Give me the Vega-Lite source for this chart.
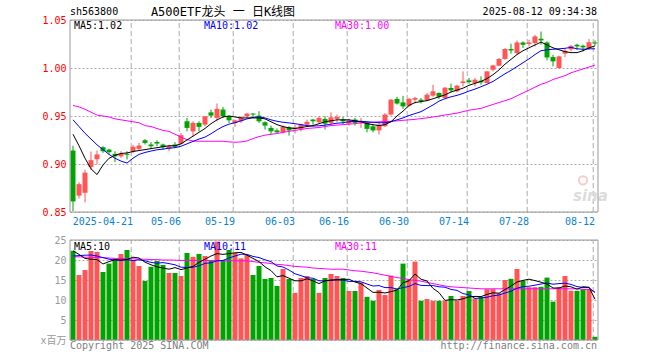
{
"$schema": "https://vega.github.io/schema/vega-lite/v6.json",
"width": 528, "height": 320, "autosize": "none",
"padding": {"left": 70, "top": 20, "right": 62, "bottom": 20},
"background": "#ffffff",
"config": {
 "view": {"stroke": null},
 "font": "DejaVu Sans Mono, Noto Sans CJK SC",
 "axis": {"labelFont": "DejaVu Sans Mono, Noto Sans CJK SC", "labelFontSize": 10, "domain": false, "ticks": false, "title": null},
 "text": {"font": "DejaVu Sans Mono, Noto Sans CJK SC", "fontSize": 10}
},
"datasets": {
 "g": [{"d":"2025-04-21"},{"d":"2025-05-06"},{"d":"2025-05-19"},{"d":"2025-06-03"},{"d":"2025-06-16"},{"d":"2025-06-30"},{"d":"2025-07-14"},{"d":"2025-07-28"},{"d":"2025-08-12"}],
 "k": [
{"d":"2025-04-07","o":0.914,"h":0.919,"l":0.851,"c":0.861,"v":22.3,"m5":0.931,"m10":0.946,"m30":0.961,"v5":22.3,"v10":21.0,"v30":20.8},
{"d":"2025-04-08","o":0.867,"h":0.881,"l":0.864,"c":0.879,"v":16.25,"m5":0.919,"m10":0.939,"m30":0.9595,"v5":21.4,"v10":21.1,"v30":20.8},
{"d":"2025-04-09","o":0.870,"h":0.894,"l":0.860,"c":0.891,"v":17.5,"m5":0.906,"m10":0.932,"m30":0.957,"v5":20.4,"v10":21.2,"v30":20.7},
{"d":"2025-04-10","o":0.897,"h":0.913,"l":0.894,"c":0.904,"v":22.25,"m5":0.895,"m10":0.926,"m30":0.954,"v5":20.2,"v10":21.25,"v30":20.7},
{"d":"2025-04-11","o":0.905,"h":0.914,"l":0.8995,"c":0.910,"v":22.0,"m5":0.889,"m10":0.920,"m30":0.951,"v5":20.1,"v10":21.0,"v30":20.6},
{"d":"2025-04-14","o":0.9175,"h":0.9185,"l":0.9116,"c":0.9133,"v":17.0,"m5":0.899,"m10":0.915,"m30":0.950,"v5":19.0,"v10":20.6,"v30":20.6},
{"d":"2025-04-15","o":0.915,"h":0.916,"l":0.910,"c":0.9123,"v":19.1,"m5":0.906,"m10":0.910,"m30":0.949,"v5":19.6,"v10":20.2,"v30":20.5},
{"d":"2025-04-16","o":0.9106,"h":0.9133,"l":0.902,"c":0.9081,"v":20.2,"m5":0.909,"m10":0.906,"m30":0.947,"v5":20.1,"v10":20.0,"v30":20.4},
{"d":"2025-04-17","o":0.908,"h":0.9133,"l":0.9064,"c":0.911,"v":21.5,"m5":0.911,"m10":0.903,"m30":0.946,"v5":20.0,"v10":19.9,"v30":20.4},
{"d":"2025-04-18","o":0.9106,"h":0.9133,"l":0.9047,"c":0.9096,"v":22.5,"m5":0.9115,"m10":0.901,"m30":0.945,"v5":20.1,"v10":20.1,"v30":20.3},
{"d":"2025-04-21","o":0.9133,"h":0.920,"l":0.9116,"c":0.9179,"v":20.0,"m5":0.913,"m10":0.906,"m30":0.944,"v5":20.7,"v10":19.85,"v30":20.3},
{"d":"2025-04-22","o":0.9158,"h":0.922,"l":0.914,"c":0.9192,"v":18.5,"m5":0.914,"m10":0.910,"m30":0.943,"v5":20.5,"v10":20.05,"v30":20.2},
{"d":"2025-04-23","o":0.9247,"h":0.926,"l":0.9203,"c":0.922,"v":14.75,"m5":0.915,"m10":0.912,"m30":0.940,"v5":19.45,"v10":19.8,"v30":20.2},
{"d":"2025-04-24","o":0.9203,"h":0.9227,"l":0.9158,"c":0.9185,"v":18.3,"m5":0.916,"m10":0.9135,"m30":0.939,"v5":18.8,"v10":19.4,"v30":20.1},
{"d":"2025-04-25","o":0.923,"h":0.9247,"l":0.9185,"c":0.9213,"v":19.75,"m5":0.917,"m10":0.9148,"m30":0.937,"v5":18.3,"v10":19.2,"v30":20.1},
{"d":"2025-04-28","o":0.9203,"h":0.9213,"l":0.915,"c":0.9175,"v":18.75,"m5":0.918,"m10":0.9155,"m30":0.935,"v5":18.0,"v10":19.35,"v30":20.0},
{"d":"2025-04-29","o":0.9158,"h":0.920,"l":0.9133,"c":0.9185,"v":16.75,"m5":0.919,"m10":0.9165,"m30":0.934,"v5":17.7,"v10":19.1,"v30":20.0},
{"d":"2025-04-30","o":0.9203,"h":0.9227,"l":0.9168,"c":0.9179,"v":16.75,"m5":0.919,"m10":0.917,"m30":0.931,"v5":18.1,"v10":18.8,"v30":19.95},
{"d":"2025-05-06","o":0.9213,"h":0.9324,"l":0.920,"c":0.930,"v":16.0,"m5":0.921,"m10":0.9185,"m30":0.928,"v5":17.6,"v10":18.2,"v30":19.9},
{"d":"2025-05-07","o":0.9445,"h":0.948,"l":0.934,"c":0.9376,"v":21.75,"m5":0.925,"m10":0.921,"m30":0.9254,"v5":18.0,"v10":18.15,"v30":19.9},
{"d":"2025-05-08","o":0.934,"h":0.9445,"l":0.929,"c":0.9428,"v":20.8,"m5":0.929,"m10":0.9235,"m30":0.924,"v5":18.4,"v10":18.2,"v30":19.9},
{"d":"2025-05-09","o":0.9428,"h":0.9445,"l":0.934,"c":0.9387,"v":21.5,"m5":0.933,"m10":0.926,"m30":0.9237,"v5":19.4,"v10":18.55,"v30":19.9},
{"d":"2025-05-12","o":0.941,"h":0.9497,"l":0.9393,"c":0.9497,"v":21.0,"m5":0.937,"m10":0.928,"m30":0.9237,"v5":20.2,"v10":19.15,"v30":19.9},
{"d":"2025-05-13","o":0.9538,"h":0.9567,"l":0.948,"c":0.9504,"v":20.0,"m5":0.942,"m10":0.9315,"m30":0.9237,"v5":21.0,"v10":19.3,"v30":19.85},
{"d":"2025-05-14","o":0.948,"h":0.963,"l":0.9445,"c":0.9574,"v":24.6,"m5":0.946,"m10":0.9355,"m30":0.9237,"v5":21.6,"v10":19.8,"v30":19.85},
{"d":"2025-05-15","o":0.9567,"h":0.9595,"l":0.948,"c":0.9497,"v":20.0,"m5":0.949,"m10":0.939,"m30":0.9237,"v5":21.4,"v10":19.9,"v30":19.8},
{"d":"2025-05-16","o":0.9497,"h":0.9504,"l":0.9428,"c":0.9455,"v":22.5,"m5":0.950,"m10":0.9415,"m30":0.923,"v5":21.6,"v10":20.5,"v30":19.8},
{"d":"2025-05-19","o":0.9428,"h":0.9463,"l":0.9387,"c":0.9455,"v":21.8,"m5":0.949,"m10":0.943,"m30":0.9227,"v5":21.8,"v10":21.0,"v30":19.8},
{"d":"2025-05-20","o":0.9445,"h":0.9497,"l":0.9428,"c":0.948,"v":20.4,"m5":0.948,"m10":0.945,"m30":0.923,"v5":21.9,"v10":21.45,"v30":19.8},
{"d":"2025-05-21","o":0.9497,"h":0.9532,"l":0.948,"c":0.9525,"v":21.25,"m5":0.948,"m10":0.947,"m30":0.924,"v5":21.2,"v10":21.4,"v30":19.8},
{"d":"2025-05-22","o":0.9525,"h":0.9532,"l":0.948,"c":0.9515,"v":16.25,"m5":0.948,"m10":0.9485,"m30":0.9265,"v5":20.4,"v10":20.9,"v30":19.6},
{"d":"2025-05-23","o":0.9504,"h":0.955,"l":0.9428,"c":0.9445,"v":18.5,"m5":0.948,"m10":0.949,"m30":0.9285,"v5":19.6,"v10":20.6,"v30":19.4},
{"d":"2025-05-26","o":0.9435,"h":0.9445,"l":0.9359,"c":0.940,"v":15.25,"m5":0.947,"m10":0.948,"m30":0.930,"v5":18.3,"v10":20.05,"v30":19.3},
{"d":"2025-05-27","o":0.9376,"h":0.940,"l":0.9307,"c":0.934,"v":15.5,"m5":0.944,"m10":0.946,"m30":0.931,"v5":17.35,"v10":19.6,"v30":19.1},
{"d":"2025-05-28","o":0.935,"h":0.937,"l":0.9324,"c":0.933,"v":13.5,"m5":0.941,"m10":0.9445,"m30":0.9317,"v5":15.8,"v10":18.5,"v30":18.9},
{"d":"2025-05-29","o":0.933,"h":0.940,"l":0.9317,"c":0.9387,"v":17.75,"m5":0.939,"m10":0.9435,"m30":0.933,"v5":16.1,"v10":18.25,"v30":18.8},
{"d":"2025-05-30","o":0.9383,"h":0.9393,"l":0.9296,"c":0.935,"v":15.25,"m5":0.9376,"m10":0.9428,"m30":0.934,"v5":15.45,"v10":17.5,"v30":18.6},
{"d":"2025-06-03","o":0.9366,"h":0.941,"l":0.9317,"c":0.938,"v":11.8,"m5":0.937,"m10":0.942,"m30":0.935,"v5":14.8,"v10":16.55,"v30":18.4},
{"d":"2025-06-04","o":0.9366,"h":0.942,"l":0.934,"c":0.941,"v":15.5,"m5":0.938,"m10":0.941,"m30":0.936,"v5":14.8,"v10":16.1,"v30":18.3},
{"d":"2025-06-05","o":0.941,"h":0.9463,"l":0.9387,"c":0.9439,"v":16.0,"m5":0.939,"m10":0.940,"m30":0.937,"v5":15.3,"v10":15.55,"v30":18.2},
{"d":"2025-06-06","o":0.9463,"h":0.947,"l":0.941,"c":0.9445,"v":15.25,"m5":0.940,"m10":0.9395,"m30":0.9375,"v5":14.8,"v10":15.45,"v30":18.0},
{"d":"2025-06-09","o":0.9435,"h":0.9497,"l":0.9428,"c":0.948,"v":11.8,"m5":0.942,"m10":0.9398,"m30":0.938,"v5":14.1,"v10":14.8,"v30":17.9},
{"d":"2025-06-10","o":0.947,"h":0.9497,"l":0.9359,"c":0.942,"v":15.5,"m5":0.944,"m10":0.9405,"m30":0.939,"v5":14.8,"v10":14.8,"v30":17.8},
{"d":"2025-06-11","o":0.9428,"h":0.9538,"l":0.941,"c":0.9486,"v":16.5,"m5":0.945,"m10":0.9415,"m30":0.940,"v5":15.0,"v10":14.9,"v30":17.7},
{"d":"2025-06-12","o":0.947,"h":0.9515,"l":0.9435,"c":0.949,"v":16.0,"m5":0.946,"m10":0.9425,"m30":0.9405,"v5":15.0,"v10":15.15,"v30":17.7},
{"d":"2025-06-13","o":0.9463,"h":0.949,"l":0.941,"c":0.9445,"v":15.5,"m5":0.946,"m10":0.943,"m30":0.941,"v5":15.1,"v10":14.95,"v30":17.7},
{"d":"2025-06-16","o":0.942,"h":0.947,"l":0.940,"c":0.9455,"v":12.25,"m5":0.946,"m10":0.944,"m30":0.9415,"v5":15.2,"v10":14.65,"v30":17.5},
{"d":"2025-06-17","o":0.9463,"h":0.948,"l":0.940,"c":0.9428,"v":12.25,"m5":0.945,"m10":0.9445,"m30":0.942,"v5":14.5,"v10":14.65,"v30":17.3},
{"d":"2025-06-18","o":0.9428,"h":0.948,"l":0.9376,"c":0.9445,"v":14.4,"m5":0.944,"m10":0.9445,"m30":0.9428,"v5":14.1,"v10":14.55,"v30":17.2},
{"d":"2025-06-19","o":0.9435,"h":0.9445,"l":0.933,"c":0.9366,"v":10.8,"m5":0.942,"m10":0.944,"m30":0.943,"v5":13.0,"v10":14.0,"v30":17.0},
{"d":"2025-06-20","o":0.9393,"h":0.941,"l":0.933,"c":0.935,"v":9.8,"m5":0.941,"m10":0.9435,"m30":0.9435,"v5":11.9,"v10":13.5,"v30":16.8},
{"d":"2025-06-23","o":0.935,"h":0.9428,"l":0.9307,"c":0.941,"v":12.5,"m5":0.940,"m10":0.943,"m30":0.944,"v5":11.95,"v10":13.6,"v30":16.5},
{"d":"2025-06-24","o":0.9393,"h":0.9532,"l":0.9387,"c":0.9515,"v":11.25,"m5":0.941,"m10":0.943,"m30":0.9442,"v5":11.75,"v10":13.1,"v30":16.2},
{"d":"2025-06-25","o":0.9515,"h":0.9678,"l":0.9504,"c":0.967,"v":16.1,"m5":0.944,"m10":0.944,"m30":0.9445,"v5":12.1,"v10":13.1,"v30":15.9},
{"d":"2025-06-26","o":0.9678,"h":0.970,"l":0.9619,"c":0.963,"v":12.7,"m5":0.950,"m10":0.946,"m30":0.945,"v5":12.5,"v10":12.75,"v30":15.6},
{"d":"2025-06-27","o":0.9642,"h":0.971,"l":0.9574,"c":0.960,"v":19.1,"m5":0.955,"m10":0.948,"m30":0.9455,"v5":14.3,"v10":13.1,"v30":15.4},
{"d":"2025-06-30","o":0.9608,"h":0.9688,"l":0.9595,"c":0.9678,"v":15.0,"m5":0.961,"m10":0.9505,"m30":0.946,"v5":14.8,"v10":13.4,"v30":15.1},
{"d":"2025-07-01","o":0.967,"h":0.970,"l":0.963,"c":0.9688,"v":19.6,"m5":0.964,"m10":0.9525,"m30":0.9465,"v5":16.5,"v10":14.1,"v30":14.9},
{"d":"2025-07-02","o":0.967,"h":0.9688,"l":0.963,"c":0.9653,"v":9.8,"m5":0.965,"m10":0.9545,"m30":0.9473,"v5":15.2,"v10":13.65,"v30":14.7},
{"d":"2025-07-03","o":0.9663,"h":0.974,"l":0.9653,"c":0.9722,"v":10.25,"m5":0.966,"m10":0.958,"m30":0.948,"v5":14.75,"v10":13.6,"v30":14.4},
{"d":"2025-07-04","o":0.9712,"h":0.9826,"l":0.970,"c":0.9757,"v":9.8,"m5":0.968,"m10":0.9615,"m30":0.949,"v5":12.9,"v10":13.6,"v30":14.1},
{"d":"2025-07-07","o":0.974,"h":0.9746,"l":0.9678,"c":0.970,"v":9.8,"m5":0.970,"m10":0.9655,"m30":0.950,"v5":11.85,"v10":13.3,"v30":13.8},
{"d":"2025-07-08","o":0.9688,"h":0.980,"l":0.9678,"c":0.9795,"v":9.8,"m5":0.972,"m10":0.968,"m30":0.951,"v5":9.9,"v10":13.2,"v30":13.5},
{"d":"2025-07-09","o":0.9792,"h":0.9837,"l":0.9746,"c":0.9767,"v":11.0,"m5":0.975,"m10":0.970,"m30":0.952,"v5":10.1,"v10":12.65,"v30":13.3},
{"d":"2025-07-10","o":0.9757,"h":0.9826,"l":0.9746,"c":0.9816,"v":9.8,"m5":0.977,"m10":0.9715,"m30":0.953,"v5":10.0,"v10":12.4,"v30":13.2},
{"d":"2025-07-11","o":0.9844,"h":0.9965,"l":0.9809,"c":0.986,"v":11.0,"m5":0.979,"m10":0.9735,"m30":0.9545,"v5":10.3,"v10":11.6,"v30":13.1},
{"d":"2025-07-14","o":0.9871,"h":0.9896,"l":0.9837,"c":0.9854,"v":12.25,"m5":0.982,"m10":0.976,"m30":0.956,"v5":10.8,"v10":11.3,"v30":13.0},
{"d":"2025-07-15","o":0.9844,"h":0.9896,"l":0.9809,"c":0.9878,"v":10.4,"m5":0.984,"m10":0.978,"m30":0.957,"v5":10.9,"v10":10.4,"v30":12.9},
{"d":"2025-07-16","o":0.9868,"h":0.9913,"l":0.9826,"c":0.985,"v":10.8,"m5":0.986,"m10":0.9805,"m30":0.958,"v5":10.85,"v10":10.5,"v30":12.8},
{"d":"2025-07-17","o":0.9844,"h":0.9965,"l":0.9837,"c":0.9965,"v":12.7,"m5":0.989,"m10":0.983,"m30":0.960,"v5":11.4,"v10":10.7,"v30":12.8},
{"d":"2025-07-18","o":0.9982,"h":1.0034,"l":0.9965,"c":1.0027,"v":12.7,"m5":0.993,"m10":0.986,"m30":0.962,"v5":11.8,"v10":11.05,"v30":12.8},
{"d":"2025-07-21","o":1.0024,"h":1.0104,"l":1.0017,"c":1.0094,"v":11.7,"m5":0.998,"m10":0.990,"m30":0.964,"v5":11.7,"v10":11.25,"v30":12.8},
{"d":"2025-07-22","o":1.0094,"h":1.0208,"l":1.0086,"c":1.0198,"v":15.0,"m5":1.004,"m10":0.994,"m30":0.966,"v5":12.6,"v10":11.75,"v30":12.8},
{"d":"2025-07-23","o":1.0198,"h":1.0253,"l":1.0149,"c":1.0183,"v":15.3,"m5":1.009,"m10":0.9975,"m30":0.968,"v5":13.5,"v10":12.2,"v30":12.8},
{"d":"2025-07-24","o":1.0156,"h":1.0287,"l":1.0138,"c":1.0266,"v":17.75,"m5":1.014,"m10":1.0015,"m30":0.971,"v5":14.5,"v10":12.95,"v30":12.8},
{"d":"2025-07-25","o":1.0266,"h":1.0277,"l":1.0208,"c":1.0242,"v":14.8,"m5":1.018,"m10":1.0055,"m30":0.974,"v5":14.9,"v10":13.35,"v30":12.8},
{"d":"2025-07-28","o":1.025,"h":1.0294,"l":1.0225,"c":1.0266,"v":13.2,"m5":1.021,"m10":1.0095,"m30":0.977,"v5":15.2,"v10":13.45,"v30":12.8},
{"d":"2025-07-29","o":1.026,"h":1.0346,"l":1.0225,"c":1.0329,"v":13.2,"m5":1.024,"m10":1.014,"m30":0.980,"v5":14.85,"v10":13.7,"v30":12.8},
{"d":"2025-07-30","o":1.0305,"h":1.038,"l":1.0242,"c":1.0287,"v":13.3,"m5":1.027,"m10":1.018,"m30":0.983,"v5":14.45,"v10":14.0,"v30":12.8},
{"d":"2025-07-31","o":1.0266,"h":1.0277,"l":1.0079,"c":1.011,"v":15.6,"m5":1.024,"m10":1.019,"m30":0.985,"v5":14.0,"v10":14.25,"v30":12.8},
{"d":"2025-08-01","o":1.0114,"h":1.0138,"l":1.0017,"c":1.0069,"v":9.6,"m5":1.021,"m10":1.0195,"m30":0.988,"v5":13.0,"v10":13.95,"v30":12.8},
{"d":"2025-08-04","o":1.000,"h":1.0128,"l":0.9995,"c":1.0121,"v":13.2,"m5":1.019,"m10":1.020,"m30":0.990,"v5":13.0,"v10":14.1,"v30":12.8},
{"d":"2025-08-05","o":1.015,"h":1.0198,"l":1.0114,"c":1.018,"v":16.0,"m5":1.017,"m10":1.0205,"m30":0.992,"v5":13.5,"v10":14.2,"v30":12.8},
{"d":"2025-08-06","o":1.0195,"h":1.0242,"l":1.0173,"c":1.023,"v":12.3,"m5":1.016,"m10":1.0215,"m30":0.995,"v5":13.3,"v10":13.9,"v30":12.8},
{"d":"2025-08-07","o":1.0242,"h":1.0253,"l":1.019,"c":1.0225,"v":12.3,"m5":1.016,"m10":1.020,"m30":0.997,"v5":12.7,"v10":13.35,"v30":12.8},
{"d":"2025-08-08","o":1.0232,"h":1.0242,"l":1.0173,"c":1.0215,"v":12.7,"m5":1.018,"m10":1.0195,"m30":0.999,"v5":13.3,"v10":13.15,"v30":12.7},
{"d":"2025-08-11","o":1.0208,"h":1.0301,"l":1.019,"c":1.0268,"v":12.7,"m5":1.021,"m10":1.020,"m30":1.001,"v5":13.2,"v10":13.1,"v30":12.6},
{"d":"2025-08-12","o":1.0266,"h":1.0287,"l":1.0232,"c":1.0256,"v":0.8,"m5":1.023,"m10":1.020,"m30":1.003,"v5":10.2,"v10":11.85,"v30":12.0}
 ]
},
"layer": [
 {"layer": [
  {"data": {"name": "g"}, "mark": {"type": "rule", "strokeDash": [5, 3], "color": "#aaaaaa", "strokeWidth": 1},
   "encoding": {"x": {"field": "d", "type": "ordinal", "bandPosition": 0.2}, "y": {"datum": 0.85}, "y2": {"datum": 1.05}}},
  {"data": {"values": [{}]}, "mark": {"type": "text", "text": "sina", "align": "left", "baseline": "middle", "dx": -4, "fontSize": 15, "fontStyle": "italic", "fontWeight": "bold", "font": "DejaVu Sans", "color": "#dcdcdc"},
   "encoding": {"x": {"datum": "2025-08-07", "type": "ordinal"}, "y": {"datum": 0.867}}},
  {"data": {"values": [{}]}, "mark": {"type": "point", "shape": "circle", "size": 70, "filled": false, "strokeWidth": 2, "color": "#f6b8b8"},
   "encoding": {"x": {"datum": "2025-08-08", "type": "ordinal"}, "y": {"datum": 0.883}}},
  {"data": {"name": "k"}, "mark": {"type": "rule", "strokeWidth": 1},
   "encoding": {
    "x": {"field": "d", "type": "ordinal", "scale": {"type": "band", "paddingInner": 0, "paddingOuter": 0},
          "axis": {"orient": "bottom", "offset": -128, "values": ["2025-04-21","2025-05-06","2025-05-19","2025-06-03","2025-06-16","2025-06-30","2025-07-14","2025-07-28","2025-08-12"],
                   "labelExpr": "datum.value == '2025-04-21' ? datum.value : slice(datum.value, 5)", "labelColor": "#0a82d2", "labelPadding": 9, "labelAngle": 0,
                   "bandPosition": 0.2, "grid": false, "labelOverlap": false, "labelBound": false, "labelFlush": false}},
    "y": {"field": "l", "type": "quantitative", "scale": {"domain": [0.716667, 1.05], "nice": false, "zero": false},
          "axis": {"orient": "left", "values": [0.85, 0.9, 0.95, 1, 1.05], "format": ".2f", "labelColor": "#ff0000", "grid": true, "gridDash": [2, 2], "gridColor": "#aaaaaa", "labelPadding": 4}},
    "y2": {"field": "h"},
    "color": {"condition": {"test": "datum.c >= datum.o", "value": "#ff5555"}, "value": "#00a300"}}},
  {"data": {"name": "k"}, "mark": {"type": "bar", "width": 5},
   "encoding": {"x": {"field": "d", "type": "ordinal"}, "y": {"field": "o", "type": "quantitative"}, "y2": {"field": "c"},
    "color": {"condition": {"test": "datum.c >= datum.o", "value": "#ff5555"}, "value": "#00a300"}}},
  {"data": {"name": "k"}, "mark": {"type": "line", "strokeWidth": 1, "color": "#ff00ff"},
   "encoding": {"x": {"field": "d", "type": "ordinal"}, "y": {"field": "m30", "type": "quantitative"}}},
  {"data": {"name": "k"}, "mark": {"type": "line", "strokeWidth": 1, "color": "#0000ff"},
   "encoding": {"x": {"field": "d", "type": "ordinal"}, "y": {"field": "m10", "type": "quantitative"}}},
  {"data": {"name": "k"}, "mark": {"type": "line", "strokeWidth": 1, "color": "#000000"},
   "encoding": {"x": {"field": "d", "type": "ordinal"}, "y": {"field": "m5", "type": "quantitative"}}},
  {"data": {"values": [{}]}, "mark": {"type": "rect", "fill": "transparent", "stroke": "#999999", "strokeWidth": 1},
   "encoding": {"y": {"datum": 0.85}, "y2": {"datum": 1.05}}},
  {"data": {"values": [{}]}, "mark": {"type": "text", "text": "sh563800", "align": "left", "baseline": "middle", "dx": -3, "dy": -8, "color": "#000000"},
   "encoding": {"x": {"datum": "2025-04-07", "type": "ordinal"}, "y": {"datum": 1.05}}},
  {"data": {"values": [{}]}, "mark": {"type": "text", "text": "A500ETF龙头 一 日K线图", "align": "center", "baseline": "middle", "dy": -8, "fontSize": 12, "color": "#000000"},
   "encoding": {"x": {"datum": "2025-05-15", "type": "ordinal"}, "y": {"datum": 1.05}}},
  {"data": {"values": [{}]}, "mark": {"type": "text", "text": "2025-08-12 09:34:38", "align": "right", "baseline": "middle", "dx": 2, "dy": -8, "color": "#000000"},
   "encoding": {"x": {"datum": "2025-08-12", "type": "ordinal"}, "y": {"datum": 1.05}}},
  {"data": {"values": [{}]}, "mark": {"type": "text", "text": "MA5:1.02", "align": "left", "baseline": "middle", "dx": 1, "dy": 6, "color": "#000000"},
   "encoding": {"x": {"datum": "2025-04-07", "type": "ordinal"}, "y": {"datum": 1.05}}},
  {"data": {"values": [{}]}, "mark": {"type": "text", "text": "MA10:1.02", "align": "left", "baseline": "middle", "dx": -1, "dy": 6, "color": "#0000ff"},
   "encoding": {"x": {"datum": "2025-05-12", "type": "ordinal"}, "y": {"datum": 1.05}}},
  {"data": {"values": [{}]}, "mark": {"type": "text", "text": "MA30:1.00", "align": "left", "baseline": "middle", "dx": -2, "dy": 6, "color": "#ff00ff"},
   "encoding": {"x": {"datum": "2025-06-12", "type": "ordinal"}, "y": {"datum": 1.05}}}
 ]},
 {"layer": [
  {"data": {"name": "g"}, "mark": {"type": "rule", "strokeDash": [5, 3], "color": "#aaaaaa", "strokeWidth": 1},
   "encoding": {"x": {"field": "d", "type": "ordinal", "bandPosition": 0.2}, "y": {"datum": 0}, "y2": {"datum": 25}}},
  {"data": {"name": "k"}, "mark": {"type": "bar", "width": 5},
   "encoding": {"x": {"field": "d", "type": "ordinal"},
    "y": {"field": "v", "type": "quantitative", "scale": {"domain": [0, 80], "nice": false, "zero": true},
          "axis": {"orient": "left", "values": [0, 5, 10, 15, 20, 25], "labelExpr": "datum.value == 0 ? 'x百万' : datum.label", "labelColor": "#999999", "grid": true, "gridDash": [2, 2], "gridColor": "#aaaaaa", "labelPadding": 4}},
    "color": {"condition": {"test": "datum.c >= datum.o", "value": "#ff5555"}, "value": "#00a300"}}},
  {"data": {"name": "k"}, "mark": {"type": "line", "strokeWidth": 1, "color": "#ff00ff"},
   "encoding": {"x": {"field": "d", "type": "ordinal"}, "y": {"field": "v30", "type": "quantitative"}}},
  {"data": {"name": "k"}, "mark": {"type": "line", "strokeWidth": 1, "color": "#0000ff"},
   "encoding": {"x": {"field": "d", "type": "ordinal"}, "y": {"field": "v10", "type": "quantitative"}}},
  {"data": {"name": "k"}, "mark": {"type": "line", "strokeWidth": 1, "color": "#000000"},
   "encoding": {"x": {"field": "d", "type": "ordinal"}, "y": {"field": "v5", "type": "quantitative"}}},
  {"data": {"values": [{}]}, "mark": {"type": "rect", "fill": "transparent", "stroke": "#999999", "strokeWidth": 1},
   "encoding": {"y": {"datum": 0}, "y2": {"datum": 25}}},
  {"data": {"values": [{}]}, "mark": {"type": "text", "text": "MA5:10", "align": "left", "baseline": "middle", "dx": 1, "dy": 7, "color": "#000000"},
   "encoding": {"x": {"datum": "2025-04-07", "type": "ordinal"}, "y": {"datum": 25}}},
  {"data": {"values": [{}]}, "mark": {"type": "text", "text": "MA10:11", "align": "left", "baseline": "middle", "dx": -1, "dy": 7, "color": "#0000ff"},
   "encoding": {"x": {"datum": "2025-05-12", "type": "ordinal"}, "y": {"datum": 25}}},
  {"data": {"values": [{}]}, "mark": {"type": "text", "text": "MA30:11", "align": "left", "baseline": "middle", "dx": -2, "dy": 7, "color": "#ff00ff"},
   "encoding": {"x": {"datum": "2025-06-12", "type": "ordinal"}, "y": {"datum": 25}}},
  {"data": {"values": [{}]}, "mark": {"type": "text", "text": "Copyright 2025 SINA.COM", "align": "left", "baseline": "middle", "dx": -3, "dy": 6, "color": "#808080"},
   "encoding": {"x": {"datum": "2025-04-07", "type": "ordinal"}, "y": {"datum": 0}}},
  {"data": {"values": [{}]}, "mark": {"type": "text", "text": "http://finance.sina.com.cn", "align": "right", "baseline": "middle", "dx": 2, "dy": 6, "color": "#808080"},
   "encoding": {"x": {"datum": "2025-08-12", "type": "ordinal"}, "y": {"datum": 0}}}
 ]}
],
"resolve": {"scale": {"y": "independent"}, "axis": {"y": "independent"}}
}
